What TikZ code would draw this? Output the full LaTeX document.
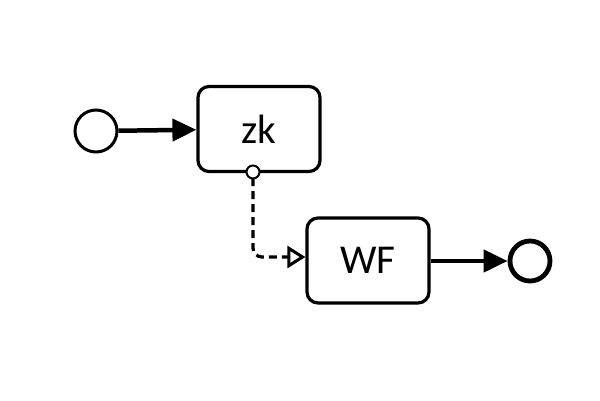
\documentclass[tikz,border=0pt]{standalone}
\usepackage{fontspec}
\setmainfont{Carlito}
\usetikzlibrary{arrows.meta}
\begin{document}
\begin{tikzpicture}[x=1pt,y=-1pt,
  task/.style={draw,line width=3.2pt,rounded corners=11pt,minimum width=122pt,minimum height=85pt,inner sep=0pt,font=\fontsize{41}{45}\selectfont},
  startev/.style={draw,circle,line width=3pt,minimum size=42pt,inner sep=0pt},
  endev/.style={draw,circle,line width=4.8pt,minimum size=40pt,inner sep=0pt},
  flow/.style={line width=4.5pt,-{Triangle[length=24pt,width=22pt]}},
  assoc/.style={line width=3.2pt,dash pattern=on 8pt off 5pt,rounded corners=9pt,-{Triangle[open,length=18pt,width=22pt,line width=3pt]}},
  port/.style={draw,circle,fill=white,line width=2pt,minimum size=13pt,inner sep=0pt}]
\useasboundingbox (0,0) rectangle (600,400);
\node[startev] (s) at (96,131) {};
\node[task] (zk) at (259,129) {zk};
\node[task] (wf) at (368,260.5) {WF};
\node[endev] (e) at (530,261) {};
\draw[flow] (s) -- (zk);
\draw[flow] (wf.east |- e) -- (e);
\draw[assoc] (253,178) |- (wf.west |- 0,257);
\node[port] (p) at (253,172) {};
\end{tikzpicture}
\end{document}
